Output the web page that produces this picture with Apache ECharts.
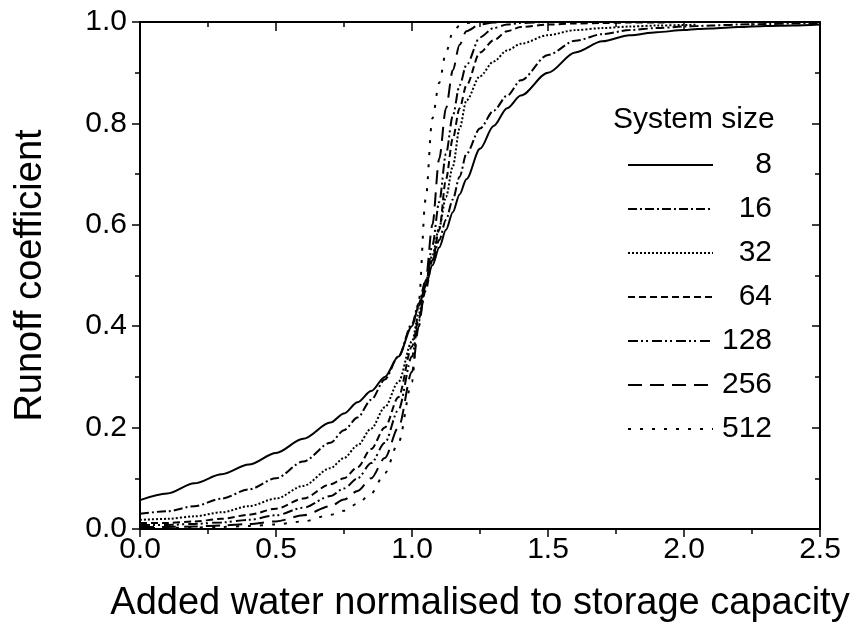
<!DOCTYPE html>
<html>
<head>
<meta charset="utf-8">
<script src="https://cdn.jsdelivr.net/npm/echarts@6/dist/echarts.min.js"></script>
<style>html,body{margin:0;padding:0;background:#fff}#c{width:860px;height:633px}</style>
</head>
<body>
<div id="c"></div>
<script>
// Added water normalised to storage capacity (shared x grid)
const xValues = [0, 0.1, 0.2, 0.3, 0.4, 0.5, 0.6, 0.7, 0.75, 0.8, 0.85, 0.9, 0.95, 1.0, 1.025, 1.05, 1.075, 1.1, 1.125, 1.15, 1.175, 1.2, 1.25, 1.3, 1.35, 1.4, 1.5, 1.6, 1.7, 1.8, 1.9, 2.0, 2.05, 2.1, 2.2, 2.3, 2.4, 2.5];
const sizeNames = ['8', '16', '32', '64', '128', '256', '512'];
// Runoff coefficient per system size
const size8   = [0.057,0.070,0.090,0.108,0.127,0.150,0.178,0.210,0.228,0.250,0.272,0.300,0.340,0.400,0.440,0.480,0.520,0.555,0.590,0.625,0.660,0.690,0.750,0.795,0.830,0.855,0.900,0.940,0.962,0.974,0.980,0.984,0.986,0.987,0.990,0.992,0.993,0.995];
const size16  = [0.030,0.035,0.045,0.060,0.078,0.100,0.133,0.170,0.195,0.220,0.255,0.295,0.340,0.405,0.445,0.490,0.530,0.570,0.610,0.650,0.695,0.740,0.790,0.825,0.855,0.885,0.935,0.963,0.976,0.984,0.988,0.991,0.992,0.993,0.995,0.996,0.997,0.998];
const size32  = [0.018,0.020,0.025,0.033,0.045,0.060,0.085,0.120,0.140,0.165,0.198,0.240,0.290,0.370,0.425,0.485,0.540,0.595,0.655,0.715,0.790,0.845,0.893,0.922,0.944,0.957,0.974,0.984,0.988,0.991,0.993,0.994,0.995,null,null,null,null,null];
const size64  = [0.012,0.012,0.015,0.020,0.028,0.040,0.060,0.088,0.100,0.122,0.158,0.200,0.260,0.360,0.415,0.470,0.530,0.590,0.690,0.770,0.830,0.875,0.940,0.964,0.982,0.990,0.995,0.997,0.998,0.999,0.999,1.000,1.000,null,null,null,null,null];
const size128 = [0.008,0.008,0.010,0.013,0.018,0.027,0.042,0.065,0.080,0.100,0.130,0.170,0.235,0.340,0.410,0.480,0.560,0.645,0.740,0.815,0.875,0.915,0.970,0.988,0.995,0.998,1.000,1.000,1.000,1.000,1.000,1.000,1.000,null,null,null,null,null];
const size256 = [0.004,0.004,0.005,0.007,0.010,0.015,0.027,0.045,0.058,0.075,0.100,0.140,0.200,0.310,0.400,0.490,0.600,0.730,0.830,0.905,0.955,0.982,0.995,0.999,1.000,1.000,1.000,1.000,1.000,1.000,1.000,1.000,1.000,null,null,null,null,null];
const size512 = [0.002,0.002,0.003,0.004,0.006,0.009,0.015,0.028,0.036,0.050,0.070,0.110,0.170,0.290,0.450,0.650,0.810,0.880,0.940,0.980,0.993,0.998,1.000,1.000,1.000,1.000,1.000,1.000,1.000,1.000,1.000,1.000,1.000,null,null,null,null,null];
const xTicks = ['0.0', '0.5', '1.0', '1.5', '2.0', '2.5'];
const yTicks = ['0.0', '0.2', '0.4', '0.6', '0.8', '1.0'];

const seriesValues = [size8, size16, size32, size64, size128, size256, size512];
const dashTypes = ['solid', [9,3,2,3], [2,2], [7,4], [10,3,2,3,2,4], [14,8], [3,9]];

const FONT = 'Liberation Sans, Arial, sans-serif';
const chart = echarts.init(document.getElementById('c'), null, {renderer: 'canvas'});

function axisCommon(extra) {
  return Object.assign({
    type: 'value',
    axisLine: {show: true, onZero: false, lineStyle: {color: '#000', width: 2}},
    splitLine: {show: false}
  }, extra);
}

const series = seriesValues.map((vals, i) => ({
  name: sizeNames[i],
  type: 'line',
  xAxisIndex: 0,
  yAxisIndex: 0,
  data: xValues.map((x, j) => vals[j] == null ? null : [x, vals[j]]).filter(p => p),
  showSymbol: false,
  symbol: 'none',
  smooth: 0.3,
  smoothMonotone: 'x',
  itemStyle: {color: '#000'},
  lineStyle: {color: '#000', width: 2, type: dashTypes[i], cap: 'butt'},
  animation: false
}));

chart.setOption({
  animation: false,
  backgroundColor: '#fff',
  grid: {left: 140, right: 40, top: 22, bottom: 104, containLabel: false},
  title: {
    text: 'System size', left: 608, top: 100,
    textStyle: {fontFamily: FONT, fontSize: 30, fontWeight: 'normal', color: '#000'}
  },
  legend: {
    orient: 'vertical', left: 622, top: 145,
    itemWidth: 85, itemHeight: 14, itemGap: 14,
    data: sizeNames,
    itemStyle: {opacity: 0},
    formatter: n => '{a|' + n + '}',
    textStyle: {
      fontFamily: FONT, color: '#000',
      rich: {a: {width: 54, align: 'right', fontSize: 30, lineHeight: 30, fontFamily: FONT, color: '#000'}}
    }
  },
  xAxis: [
    axisCommon({
      position: 'bottom', min: 0, max: 2.5, interval: 0.5,
      name: 'Added water normalised to storage capacity', nameLocation: 'middle', nameGap: 56,
      nameTextStyle: {fontFamily: FONT, fontSize: 38, color: '#000'},
      axisTick: {show: true, inside: false, length: 8, lineStyle: {color: '#000', width: 1.5}},
      minorTick: {show: true, splitNumber: 2, length: 5, lineStyle: {color: '#000', width: 1.5}},
      axisLabel: {show: true, margin: 6, fontFamily: FONT, fontSize: 30, color: '#000',
        formatter: v => xTicks[Math.round(v / 0.5)]}
    }),
    axisCommon({
      position: 'top', min: 0, max: 2.5, interval: 0.5,
      axisTick: {show: true, inside: true, length: 9, lineStyle: {color: '#000', width: 1.5}},
      minorTick: {show: true, splitNumber: 2, length: 5, lineStyle: {color: '#000', width: 1.5}},
      axisLabel: {show: false}
    })
  ],
  yAxis: [
    axisCommon({
      position: 'left', min: 0, max: 1, interval: 0.2,
      name: 'Runoff coefficient', nameLocation: 'middle', nameGap: 90,
      nameTextStyle: {fontFamily: FONT, fontSize: 38, color: '#000'},
      axisTick: {show: true, inside: false, length: 8, lineStyle: {color: '#000', width: 1.5}},
      minorTick: {show: true, splitNumber: 2, length: 5, lineStyle: {color: '#000', width: 1.5}},
      axisLabel: {show: true, margin: 13, fontFamily: FONT, fontSize: 30, color: '#000',
        formatter: v => yTicks[Math.round(v / 0.2)]}
    }),
    axisCommon({
      position: 'right', min: 0, max: 1, interval: 0.2,
      axisTick: {show: true, inside: true, length: 8, lineStyle: {color: '#000', width: 1.5}},
      minorTick: {show: true, splitNumber: 2, length: 5, lineStyle: {color: '#000', width: 1.5}},
      axisLabel: {show: false}
    })
  ],
  series: series
});
</script>
</body>
</html>
